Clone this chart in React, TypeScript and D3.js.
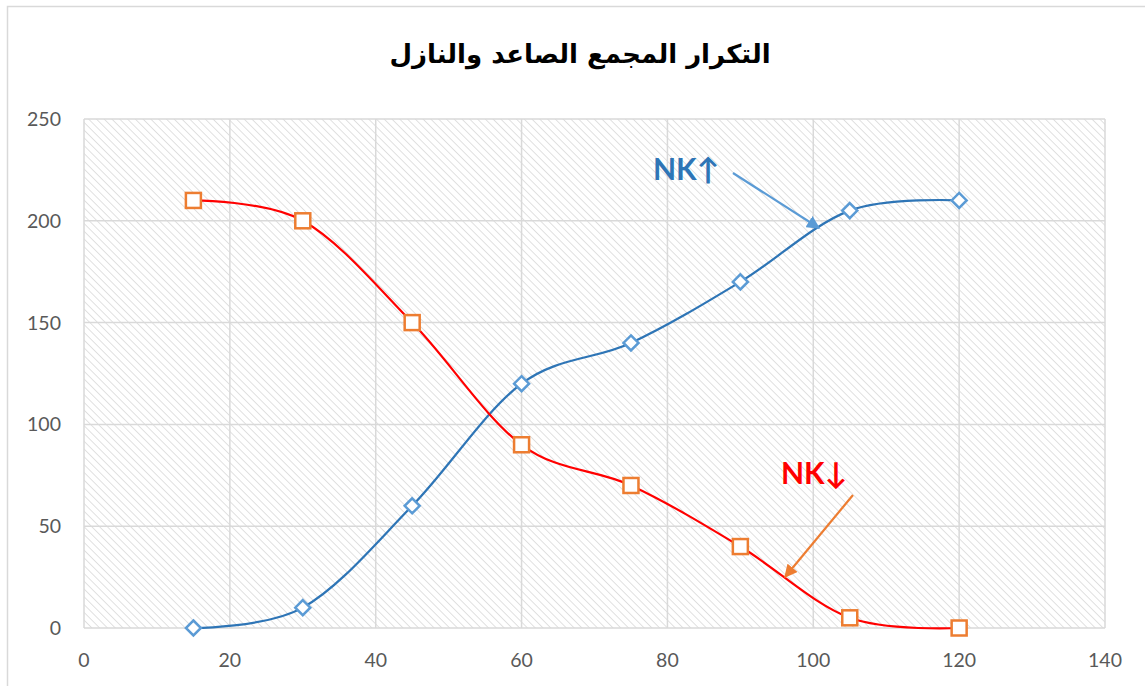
import React from "react";
import * as d3 from "d3";

const xValues = [15, 30, 45, 60, 75, 90, 105, 120];
const ascending = [0, 10, 60, 120, 140, 170, 205, 210];
const descending = [210, 200, 150, 90, 70, 40, 5, 0];
const xTicks = [0, 20, 40, 60, 80, 100, 120, 140];
const yTicks = [0, 50, 100, 150, 200, 250];
const title = "التكرار المجمع الصاعد والنازل";

export default function App() {
  const width = 1145;
  const height = 686;
  const plot = { left: 84, right: 1105, top: 119, bottom: 628 };

  const x = d3.scaleLinear().domain([0, 140]).range([plot.left, plot.right]);
  const y = d3.scaleLinear().domain([0, 250]).range([plot.bottom, plot.top]);

  const line = d3
    .line<number>()
    .x((_, i) => x(xValues[i]))
    .y((d) => y(d))
    .curve(d3.curveCardinal.tension(0));

  const font = "Lato, 'Open Sans', sans-serif";

  return (
    <svg
      width={width}
      height={height}
      style={{ position: "absolute", left: 0, top: 0, background: "#fff" }}
    >
      <defs>
        <pattern id="hatch" width="5.5" height="5.5" patternUnits="userSpaceOnUse" patternTransform="rotate(-45)">
          <line x1="0" y1="0" x2="0" y2="5.5" stroke="#d4d4d4" strokeWidth="1.4" />
        </pattern>
        <marker id="arrBlue" viewBox="0 0 10 10" refX="9" refY="5" markerWidth="6" markerHeight="6" orient="auto">
          <path d="M0,0 L10,5 L0,10 z" fill="#5B9BD5" />
        </marker>
        <marker id="arrOrange" viewBox="0 0 10 10" refX="9" refY="5" markerWidth="6" markerHeight="6" orient="auto">
          <path d="M0,0 L10,5 L0,10 z" fill="#ED7D31" />
        </marker>
      </defs>

      <rect x={7.5} y={6.5} width={width} height={height} fill="none" stroke="#d9d9d9" strokeWidth={1.5} />

      <text
        x={580}
        y={63}
        textAnchor="middle"
        direction="rtl"
        fontFamily="'DejaVu Sans', sans-serif"
        fontWeight="bold"
        fontSize={26}
        fill="#000"
      >
        {title}
      </text>

      <rect
        x={plot.left}
        y={plot.top}
        width={plot.right - plot.left}
        height={plot.bottom - plot.top}
        fill="url(#hatch)"
      />

      {xTicks.map((t) => (
        <line key={"gx" + t} x1={x(t)} x2={x(t)} y1={plot.top} y2={plot.bottom} stroke="#d9d9d9" strokeWidth={1.5} />
      ))}
      {yTicks.map((t) => (
        <line key={"gy" + t} x1={plot.left} x2={plot.right} y1={y(t)} y2={y(t)} stroke="#d9d9d9" strokeWidth={1.5} />
      ))}

      {yTicks.map((t) => (
        <text key={"ty" + t} x={61} y={y(t) + 7} textAnchor="end" fontFamily={font} fontSize={19.5} fill="#595959">
          {t}
        </text>
      ))}
      {xTicks.map((t) => (
        <text key={"tx" + t} x={x(t)} y={667} textAnchor="middle" fontFamily={font} fontSize={19.5} fill="#595959">
          {t}
        </text>
      ))}

      <path d={line(ascending) || ""} fill="none" stroke="#2E75B6" strokeWidth={2.2} />
      <path d={line(descending) || ""} fill="none" stroke="#FF0000" strokeWidth={2.2} />

      {ascending.map((v, i) => {
        const cx = x(xValues[i]);
        const cy = y(v);
        const r = 7.5;
        return (
          <path
            key={"a" + i}
            d={`M${cx},${cy - r}L${cx + r},${cy}L${cx},${cy + r}L${cx - r},${cy}Z`}
            fill="#fff"
            stroke="#5B9BD5"
            strokeWidth={2.5}
          />
        );
      })}
      {descending.map((v, i) => (
        <rect
          key={"d" + i}
          x={x(xValues[i]) - 7.5}
          y={y(v) - 7.5}
          width={15}
          height={15}
          fill="#fff"
          stroke="#ED7D31"
          strokeWidth={2.5}
        />
      ))}

      <text x={653} y={180} fontFamily={font} fontWeight="bold" fontSize={30} fill="#2E75B6">
        NK↑
      </text>
      <line x1={733} y1={173} x2={819} y2={228} stroke="#5B9BD5" strokeWidth={2.2} markerEnd="url(#arrBlue)" />

      <text x={781} y={484} fontFamily={font} fontWeight="bold" fontSize={30} fill="#FF0000">
        NK↓
      </text>
      <line x1={853} y1={495} x2={785} y2={577} stroke="#ED7D31" strokeWidth={2.2} markerEnd="url(#arrOrange)" />
    </svg>
  );
}
